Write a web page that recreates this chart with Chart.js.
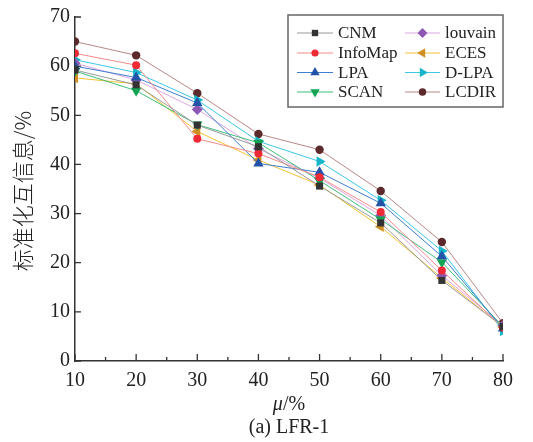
<!DOCTYPE html>
<html>
<head>
<meta charset="utf-8">
<script src="https://cdn.jsdelivr.net/npm/chart.js"></script>
<style>
  html, body { margin: 0; padding: 0; background: #fff; }
  #wrap { width: 533px; height: 442px; }
</style>
</head>
<body>
<div id="wrap"><canvas id="nmiChart" width="533" height="442"></canvas></div>
<script>
// mixing parameter mu (%) on the x axis
const mu = [10, 20, 30, 40, 50, 60, 70, 80];
const yTicks = [0, 10, 20, 30, 40, 50, 60, 70];

// NMI (%) per algorithm
const cnm     = [59.2, 56.2, 48.0, 43.6, 35.6, 28.1, 16.4, 7.0];
const infoMap = [62.6, 60.2, 45.2, 42.2, 37.4, 30.3, 18.4, 6.8];
const lpa     = [60.0, 57.7, 52.5, 40.2, 38.4, 32.1, 21.3, 6.6];
const scan    = [59.0, 55.0, 48.1, 44.4, 36.7, 28.8, 20.1, 7.0];
const louvain = [60.6, 57.2, 51.2, 43.2, 37.2, 29.6, 17.4, 7.2];
const eces    = [57.6, 56.4, 46.7, 40.9, 35.8, 27.3, 16.9, 6.9];
const dlpa    = [61.3, 58.7, 53.1, 44.7, 40.6, 32.7, 22.4, 6.1];
const lcdir   = [65.0, 62.2, 54.5, 46.2, 43.0, 34.6, 24.2, 7.7];

const serif = '"Liberation Serif", "Times New Roman", serif';

function series(label, values, line, marker, style, radius, rotation) {
  return {
    label: label,
    data: mu.map((x, i) => ({ x: x, y: values[i] })),
    borderColor: line,
    borderWidth: 1,
    backgroundColor: marker,
    pointBackgroundColor: marker,
    pointBorderColor: marker,
    pointBorderWidth: 0,
    pointStyle: style,
    pointRotation: rotation || 0,
    pointRadius: radius,
    tension: 0
  };
}

const datasets = [
  series('CNM', cnm, '#9a9a9a', '#333333', 'rect', 5),
  series('InfoMap', infoMap, '#f58a8a', '#ee2a36', 'circle', 4),
  series('LPA', lpa, '#3f7fcf', '#2353a8', 'triangle', 6),
  series('SCAN', scan, '#3cbf7a', '#12a452', 'triangle', 6, 180),
  series('louvain', louvain, '#dba6e3', '#8c58b4', 'rectRot', 5.5),
  series('ECES', eces, '#f2c232', '#cf8f22', 'triangle', 6, 270),
  series('D-LPA', dlpa, '#3cc6e8', '#17b5c9', 'triangle', 6, 90),
  series('LCDIR', lcdir, '#b88787', '#5c2a2c', 'circle', 4.2)
];

// ticks pointing into the plot, plus axis titles and legend box
const decor = {
  id: 'decor',
  afterDraw(chart) {
    const ctx = chart.ctx;
    const xs = chart.scales.x, ys = chart.scales.y;
    const area = chart.chartArea;
    ctx.save();
    ctx.strokeStyle = '#333';
    ctx.lineWidth = 1.3;
    ctx.beginPath();
    for (let v = 10; v <= 80; v += 5) {
      const px = xs.getPixelForValue(v);
      const len = v % 10 === 0 ? 7 : 4;
      ctx.moveTo(px, area.bottom);
      ctx.lineTo(px, area.bottom - len);
    }
    yTicks.forEach(v => {
      const py = ys.getPixelForValue(v);
      ctx.moveTo(area.left, py);
      ctx.lineTo(area.left + 6, py);
    });
    ctx.stroke();

    // axis titles
    ctx.fillStyle = '#222';
    ctx.textAlign = 'center';
    ctx.textBaseline = 'middle';
    ctx.save();
    ctx.translate(23, 191);
    ctx.rotate(-Math.PI / 2);
    ctx.font = '300 22px "Noto Sans CJK SC"';
    ctx.fillText('标准化互信息/%', 0, 0);
    ctx.restore();

    ctx.font = 'italic 20px ' + serif;
    const muW = ctx.measureText('μ').width;
    ctx.font = '20px ' + serif;
    const restW = ctx.measureText('/%').width;
    const startX = (area.left + area.right) / 2 - (muW + restW) / 2;
    ctx.textAlign = 'left';
    ctx.font = 'italic 20px ' + serif;
    ctx.fillText('μ', startX, 405);
    ctx.font = '20px ' + serif;
    ctx.fillText('/%', startX + muW, 405);
    ctx.textAlign = 'center';
    ctx.fillText('(a) LFR-1', (area.left + area.right) / 2, 428);

    // legend
    ctx.strokeStyle = '#666';
    ctx.lineWidth = 1.5;
    ctx.fillStyle = '#fff';
    ctx.fillRect(288, 15, 215, 92);
    ctx.strokeRect(288, 15, 215, 92);
    const cols = [{ x0: 297, x1: 333, tx: 338 }, { x0: 405, x1: 440, tx: 445 }];
    const rows = [33, 53, 72.5, 92];
    datasets.forEach((ds, i) => {
      const c = cols[Math.floor(i / 4)];
      const y = rows[i % 4];
      ctx.strokeStyle = ds.borderColor;
      ctx.lineWidth = 1.2;
      ctx.beginPath();
      ctx.moveTo(c.x0, y);
      ctx.lineTo(c.x1, y);
      ctx.stroke();
      ctx.fillStyle = ds.pointBackgroundColor;
      ctx.strokeStyle = ds.pointBackgroundColor;
      Chart.helpers.drawPoint(ctx, {
        pointStyle: ds.pointStyle,
        rotation: ds.pointRotation,
        radius: ds.pointRadius * 0.9,
        borderWidth: 0
      }, (c.x0 + c.x1) / 2, y);
      ctx.fillStyle = '#222';
      ctx.textAlign = 'left';
      ctx.font = '17px ' + serif;
      ctx.fillText(ds.label, c.tx, y + 1);
    });
    ctx.restore();
  }
};

new Chart(document.getElementById('nmiChart'), {
  type: 'line',
  data: { datasets: datasets },
  options: {
    responsive: false,
    animation: false,
    layout: { padding: { left: 0, right: 30, top: 14, bottom: 0 } },
    plugins: { legend: { display: false }, tooltip: { enabled: false } },
    scales: {
      x: {
        type: 'linear',
        min: 10, max: 80,
        grid: { display: false, drawTicks: false },
        border: { display: true, color: '#333', width: 1.5 },
        ticks: { stepSize: 10, color: '#222', padding: 8, font: { family: serif, size: 20 } },
        afterFit(scale) { scale.height = 81; }
      },
      y: {
        min: 0, max: 70,
        grid: { display: false, drawTicks: false },
        border: { display: true, color: '#333', width: 1.5 },
        ticks: { stepSize: 10, color: '#222', padding: 5, font: { family: serif, size: 20 } },
        afterFit(scale) { scale.width = 75; }
      }
    }
  },
  plugins: [decor]
});
</script>
</body>
</html>
